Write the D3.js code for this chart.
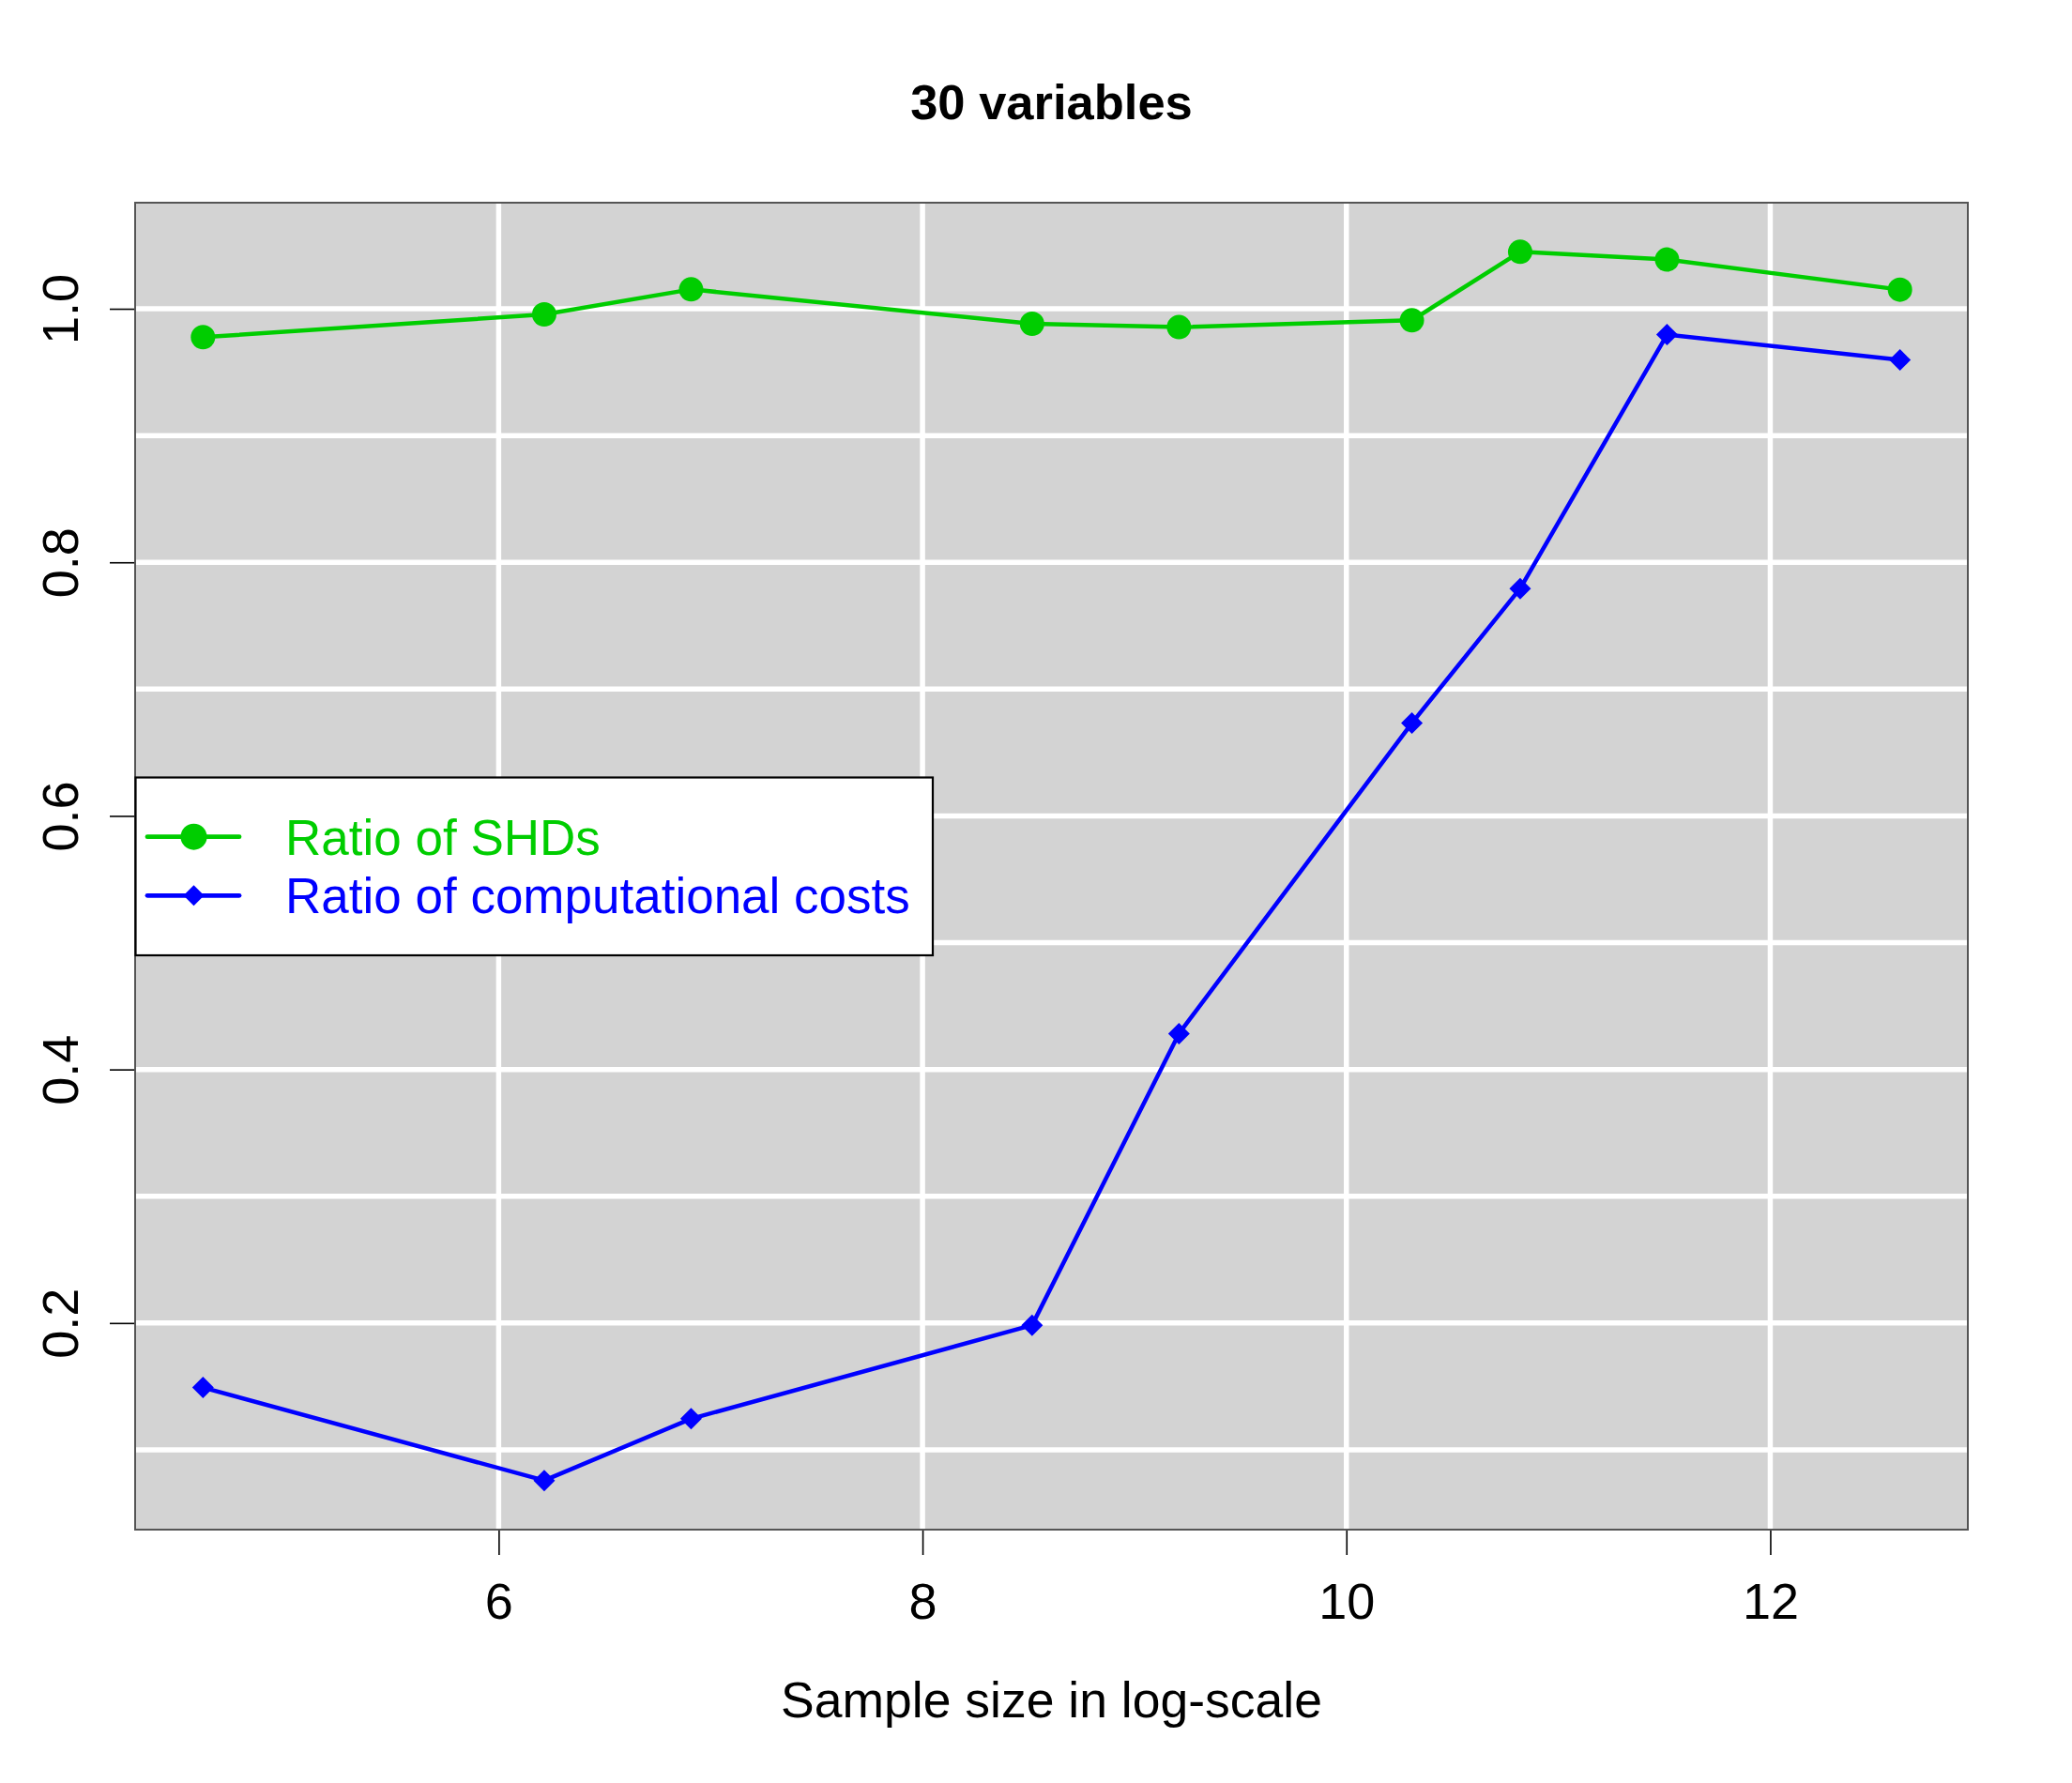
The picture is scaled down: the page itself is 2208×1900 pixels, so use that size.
<!DOCTYPE html>
<html>
<head>
<meta charset="utf-8">
<script src="https://cdn.jsdelivr.net/npm/d3@7"></script>
<style>
  html, body { margin: 0; padding: 0; background: #ffffff; }
  svg { display: block; font-family: "Liberation Sans", Arial, sans-serif; }
</style>
</head>
<body>
<svg id="chart" width="2208" height="1900"></svg>
<script>
// ---- data ----
const logSampleSize = [4.605, 6.215, 6.908, 8.517, 9.210, 10.309, 10.820, 11.513, 12.612];
const ratioSHD      = [0.9776, 0.9956, 1.0153, 0.9882, 0.9855, 0.9909, 1.0449, 1.0388, 1.0151];
const ratioCost     = [0.1491, 0.0758, 0.1245, 0.1983, 0.4283, 0.6732, 0.7793, 0.9796, 0.9596];
const xTicks = [6, 8, 10, 12];
const yTicks = [0.2, 0.4, 0.6, 0.8, 1.0];
const yGrid  = [0.1, 0.2, 0.3, 0.4, 0.5, 0.6, 0.7, 0.8, 0.9, 1.0];
const seriesNames = ["Ratio of SHDs", "Ratio of computational costs"];
const seriesColors = ["#00cd00", "#0000ff"];
const titleText = "30 variables";
const xLabelText = "Sample size in log-scale";

// ---- layout ----
const svg = d3.select("#chart");
const L = 144, R = 2097, T = 216, B = 1630;

function rDomain(vals) {
  const lo = d3.min(vals), hi = d3.max(vals), pad = (hi - lo) * 0.04;
  return [lo - pad, hi + pad];
}
const x = d3.scaleLinear().domain(rDomain(logSampleSize)).range([L, R]);
const y = d3.scaleLinear().domain(rDomain(ratioSHD.concat(ratioCost))).range([B, T]);

// background
svg.append("rect").attr("x", L).attr("y", T).attr("width", R - L).attr("height", B - T)
  .attr("fill", "#d3d3d3");

// grid
const grid = svg.append("g");
grid.selectAll("line.gy").data(yGrid).enter().append("line")
  .attr("x1", L).attr("x2", R).attr("y1", d => y(d)).attr("y2", d => y(d))
  .attr("stroke", "#ffffff").attr("stroke-width", 5.5);
grid.selectAll("line.gx").data(xTicks).enter().append("line")
  .attr("y1", T).attr("y2", B).attr("x1", d => x(d)).attr("x2", d => x(d))
  .attr("stroke", "#ffffff").attr("stroke-width", 5.5);

// axes
const xAxis = svg.append("g").attr("transform", `translate(0,${B})`)
  .call(d3.axisBottom(x).tickValues(xTicks).tickSize(27).tickSizeOuter(0).tickFormat(d3.format("d")));
xAxis.select(".domain").remove();
xAxis.selectAll(".tick line").attr("stroke", "#000").attr("stroke-width", 1.6);
xAxis.selectAll(".tick text").attr("y", 95).attr("dy", 0)
  .attr("font-size", 54).attr("fill", "#000").attr("font-family", "Liberation Sans, Arial, sans-serif");

const yAxis = svg.append("g").attr("transform", `translate(${L},0)`)
  .call(d3.axisLeft(y).tickValues(yTicks).tickSize(27).tickSizeOuter(0).tickFormat(d3.format(".1f")));
yAxis.select(".domain").remove();
yAxis.selectAll(".tick line").attr("stroke", "#000").attr("stroke-width", 1.6);
yAxis.selectAll(".tick text")
  .attr("transform", "rotate(-90)")
  .attr("x", 0).attr("y", -61).attr("dy", 0)
  .attr("text-anchor", "middle")
  .attr("font-size", 54).attr("fill", "#000").attr("font-family", "Liberation Sans, Arial, sans-serif");

// series lines & points
const line = d3.line().x(d => x(d[0])).y(d => y(d[1]));
const shdPts = logSampleSize.map((v, i) => [v, ratioSHD[i]]);
const costPts = logSampleSize.map((v, i) => [v, ratioCost[i]]);

function diamondPath(r) {
  return `M0,${-r}L${r},0L0,${r}L${-r},0Z`;
}

svg.append("path").datum(shdPts).attr("d", line).attr("fill", "none")
  .attr("stroke", seriesColors[0]).attr("stroke-width", 4.5)
  .attr("stroke-linejoin", "round").attr("stroke-linecap", "round");
svg.append("g").selectAll("circle").data(shdPts).enter().append("circle")
  .attr("cx", d => x(d[0])).attr("cy", d => y(d[1])).attr("r", 13)
  .attr("fill", seriesColors[0]);

svg.append("path").datum(costPts).attr("d", line).attr("fill", "none")
  .attr("stroke", seriesColors[1]).attr("stroke-width", 4.5)
  .attr("stroke-linejoin", "round").attr("stroke-linecap", "round");
svg.append("g").selectAll("path").data(costPts).enter().append("path")
  .attr("transform", d => `translate(${x(d[0])},${y(d[1])})`)
  .attr("d", diamondPath(11.5)).attr("fill", seriesColors[1]);

// plot box
svg.append("rect").attr("x", L).attr("y", T).attr("width", R - L).attr("height", B - T)
  .attr("fill", "none").attr("stroke", "#555").attr("stroke-width", 2);

// legend
const lg = svg.append("g");
lg.append("rect").attr("x", 144.5).attr("y", 828.5).attr("width", 994 - 144.5).attr("height", 1018 - 828.5)
  .attr("fill", "#ffffff").attr("stroke", "#000").attr("stroke-width", 2.2);
const rowY = [891.7, 954.3];
seriesNames.forEach((name, i) => {
  const g = lg.append("g");
  g.append("line").attr("x1", 157).attr("x2", 255).attr("y1", rowY[i]).attr("y2", rowY[i])
    .attr("stroke", seriesColors[i]).attr("stroke-width", 4.8).attr("stroke-linecap", "round");
  if (i === 0) {
    g.append("circle").attr("cx", 206.5).attr("cy", rowY[i]).attr("r", 14).attr("fill", seriesColors[i]);
  } else {
    g.append("path").attr("transform", `translate(206.5,${rowY[i]})`).attr("d", diamondPath(11))
      .attr("fill", seriesColors[i]);
  }
  g.append("text").attr("x", 304).attr("y", rowY[i] + 19).attr("font-size", 53)
    .attr("fill", seriesColors[i]).text(name);
});

// title & axis label
svg.append("text").attr("x", (L + R) / 2).attr("y", 127).attr("text-anchor", "middle")
  .attr("font-size", 52.5).attr("font-weight", "bold").attr("fill", "#000").text(titleText);
svg.append("text").attr("x", (L + R) / 2).attr("y", 1830).attr("text-anchor", "middle")
  .attr("font-size", 53.5).attr("fill", "#000").text(xLabelText);
</script>
</body>
</html>
